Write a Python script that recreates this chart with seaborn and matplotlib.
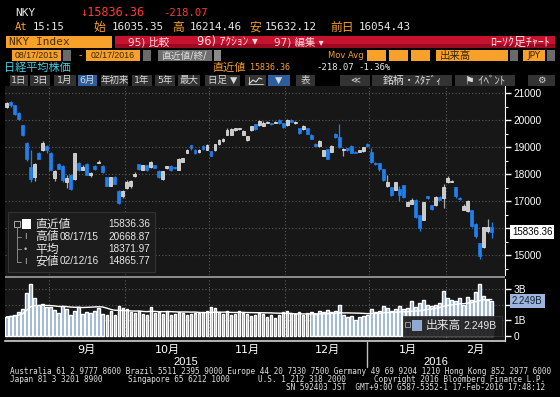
import matplotlib

matplotlib.use("Agg")
import matplotlib.pyplot as plt
import numpy as np
import pandas as pd
import seaborn as sns
from matplotlib.lines import Line2D
from matplotlib.patches import Rectangle

# NKY daily candles, 08/17/2015 - 02/17/2016
opens = [
    20500, 20650, 20540, 20260, 19800, 19150, 18250, 17900, 18780, 18900, 19040,
    18780, 17850, 18370, 18300, 17700, 17960, 17800, 18420, 18150, 18370, 17950, 18300, 18420, 18300, 17890, 17560, 17890, 17370, 17180,
    17480, 17560, 17920, 18370, 18150, 18330, 18250, 18330, 18110, 17800, 18220, 18300, 18250, 18150, 18450, 18780, 19070, 18900, 18800, 19050, 18900,
    18850, 18880, 19100, 19220, 19440, 19450, 19620, 19660, 19450, 19250, 19630, 19850, 19830, 19780, 19900, 19880, 19900, 20000, 19880,
    19800, 20010, 19890, 19700, 19670, 19700, 19450, 19110, 19020, 18680, 18920, 18820, 19500, 19360, 18900, 18950, 19050, 18820, 18820, 18850, 19110,
    18818, 18400, 18400, 18180, 17560, 17520, 17410, 17430, 17590, 16810, 16900, 17040, 16480, 16300, 17190, 16850, 16850, 17150, 17100,
    17700, 17720, 17520, 17110, 16670, 16630, 16670, 16150, 15440, 15300, 15900, 16035.35,
]
highs = [
    20669, 20700, 20560, 20280, 19830, 19180, 18900, 18400, 18800, 19230, 19060,
    18800, 18130, 18400, 18330, 17950, 17990, 18790, 18450, 18340, 18400, 18060, 18320, 18510, 18330, 17900, 17900, 17920, 17390, 17420,
    17760, 17780, 18070, 18380, 18350, 18340, 18470, 18350, 18130, 18120, 18300, 18320, 18260, 18590, 18600, 18930, 19090, 18920, 18920, 19070, 19120,
    18870, 19120, 19280, 19330, 19700, 19700, 19720, 19720, 19620, 19420, 19790, 19870, 20000, 19960, 19950, 19900, 19960, 20020, 19900,
    20030, 20040, 19980, 19720, 19830, 19720, 19470, 19130, 19260, 18900, 18940, 19060, 19520, 19870, 18950, 18970, 19060, 18840, 18890, 19010, 19130,
    18960, 18440, 18420, 18180, 17975, 17530, 17720, 17570, 17600, 17010, 17100, 17060, 16500, 16960, 17200, 16860, 17170, 17170, 17630,
    17920, 17790, 17530, 17160, 16890, 17040, 16680, 16170, 15460, 16050, 16330, 16214.46,
]
lows = [
    20450, 20500, 20200, 20000, 19420, 18500, 17714, 17740, 18540, 18860, 18780,
    18150, 17750, 18170, 17700, 17480, 17410, 17780, 18100, 18130, 17950, 17900, 18140, 18400, 18040, 17560, 17540, 17630, 16901, 17100,
    17450, 17500, 17900, 18150, 18130, 18120, 18230, 18220, 17850, 17760, 18200, 18110, 18180, 18140, 18430, 18760, 18900, 18750, 18780, 18900, 18880,
    18650, 18860, 19080, 19200, 19430, 19440, 19600, 19640, 19430, 19230, 19600, 19620, 19790, 19760, 19880, 19830, 19880, 19870, 19720,
    19780, 19930, 19870, 19480, 19630, 19470, 19280, 19030, 19000, 18650, 18540, 18800, 19340, 18950, 18670, 18870, 18780, 18760, 18800, 18830, 19000,
    18394, 18320, 18110, 17740, 17509, 17190, 17390, 17000, 17100, 16800, 16880, 16387, 15900, 16280, 17060, 16660, 16830, 17030, 16740,
    17680, 17700, 17100, 17020, 16650, 16600, 16040, 15630, 14866, 15260, 15810, 15632.12,
]
closes = [
    20620, 20554, 20222, 20033, 19435, 18540, 17806, 18376, 18574, 19136, 18890,
    18165, 18095, 18182, 17792, 17860, 17427, 18770, 18150, 18264, 17965, 18026, 18171, 18432, 18070, 17571, 17880, 17645, 16930, 17388,
    17722, 17725, 18005, 18186, 18322, 18141, 18438, 18234, 17891, 18096, 18291, 18131, 18207, 18554, 18580, 18900, 18947, 18777, 18903, 18935, 19083,
    18683, 19116, 19265, 19310, 19642, 19671, 19697, 19691, 19596, 19393, 19760, 19649, 19960, 19879, 19924, 19847, 19944, 19883, 19747,
    20012, 19938, 19939, 19504, 19760, 19492, 19301, 19046, 19230, 18883, 18565, 19049, 19353, 18986, 18916, 18886, 18789, 18769, 18873, 18982, 19033,
    18450, 18374, 18191, 17767, 17697, 17218, 17715, 17240, 17147, 16955, 17048, 16416, 16017, 16958, 17110, 16708, 17163, 17041, 17518,
    17865, 17750, 17191, 17068, 16820, 17004, 16085, 15713, 14952, 16022, 16054, 15836.36,
]
# volume in billions of shares
volume = [
    1.20, 1.25, 1.30, 1.50, 1.70, 2.75, 3.30, 2.40, 2.00, 2.05, 1.85,
    1.86, 1.65, 1.43, 1.90, 1.70, 1.35, 1.60, 1.86, 1.40, 1.50, 1.45, 1.60, 1.75, 1.40, 1.30, 1.60, 1.35, 1.90, 1.75,
    1.70, 1.50, 1.45, 1.55, 1.40, 1.35, 1.85, 1.45, 1.50, 1.40, 1.60, 1.35, 1.40, 1.50, 1.45, 1.30, 1.40, 1.45, 1.45, 1.50, 1.60,
    1.85, 1.80, 1.50, 1.40, 1.55, 1.30, 1.40, 1.60, 1.45, 1.40, 1.25, 1.30, 1.45, 1.40, 1.20, 1.35, 1.15, 1.30, 1.50,
    1.60, 1.45, 1.40, 1.50, 1.30, 1.45, 1.50, 1.40, 1.55, 1.50, 1.65, 1.50, 1.60, 1.95, 1.30, 1.20, 1.25, 1.00, 1.20, 1.25, 1.30,
    1.70, 1.50, 1.60, 1.90, 1.80, 1.60, 1.70, 1.90, 1.70, 1.75, 2.20, 1.85, 2.10, 2.30, 1.95, 1.90, 2.00, 2.10, 2.90,
    2.40, 2.30, 2.20, 2.40, 2.00, 2.50, 2.30, 2.80, 3.35, 2.55, 2.30, 2.249,
]
tse_holidays = ["2015-09-21", "2015-09-22", "2015-09-23", "2015-10-12", "2015-11-03",
                "2015-11-23", "2015-12-23", "2015-12-31", "2016-01-01", "2016-01-11",
                "2016-02-11"]
month_names = ["9月", "10月", "11月", "12月", "1月", "2月"]
year_names = ["2015", "2016"]
price_ticks = [15000, 16000, 17000, 18000, 19000, 20000, 21000]
# 16000 and 2B sit under the last-value boxes, so they are not drawn
price_tick_labels = ["15000", "", "17000", "18000", "19000", "20000", "21000"]
vol_ticks = [0, 1, 2, 3]
vol_tick_labels = ["0", "1B", "", "3B"]

dates = pd.bdate_range("2015-08-17", "2016-02-17", freq="C", holidays=tse_holidays)
df = pd.DataFrame({"date": dates, "open": opens, "high": highs, "low": lows,
                   "close": closes, "volume": volume})
df["idx"] = np.arange(len(df))
df["ma"] = df["volume"].rolling(20, min_periods=1).mean()
month_start = df.index[df["date"].dt.month != df["date"].shift().dt.month][1:]
bounds = [m - 0.5 for m in month_start]

W, H = 560, 397
ORANGE = "#f7a12b"
RED = "#ff3b30"
UP, DOWN = "#c9c9c9", "#1f80f0"
VOLC = "#8eaad0"
CJK = ["DejaVu Sans", "Noto Sans CJK JP"]
MONO = ["DejaVu Sans Mono", "Noto Sans CJK JP"]
NUM = ["Liberation Sans", "Noto Sans CJK JP"]

sns.set_style("dark")
plt.rcParams["font.family"] = CJK

fig = plt.figure(figsize=(W / 100, H / 100), dpi=100, facecolor="black")


def rect(x0, y0, x1, y1, fc, ec="none", lw=0, z=1, alpha=1):
    fig.add_artist(Rectangle((x0 / W, 1 - y1 / H), (x1 - x0) / W, (y1 - y0) / H,
                             transform=fig.transFigure, facecolor=fc, edgecolor=ec,
                             linewidth=lw, zorder=z, alpha=alpha))


def line(xs, ys, color, lw=0.8, z=6):
    fig.add_artist(Line2D([x / W for x in xs], [1 - y / H for y in ys],
                          transform=fig.transFigure, color=color, lw=lw, zorder=z))


def txt(x, y, s, color="white", size=7, ha="left", family=CJK, z=6, **kw):
    fig.text(x / W, 1 - y / H, s, color=color, fontsize=size, ha=ha, va="center",
             family=family, zorder=z, **kw)


def axes_px(x0, y0, x1, y1):
    return fig.add_axes([x0 / W, 1 - y1 / H, (x1 - x0) / W, (y1 - y0) / H])


# ---- price panel ----
ax = axes_px(5, 86, 505, 275)
ax.set_facecolor("#171717")
up = df["close"] >= df["open"]
colors = np.where(up, UP, DOWN)
ax.vlines(df["idx"], df["low"], df["high"], colors=np.where(up, "#a8a8a8", DOWN),
          linewidth=0.9, zorder=3)
body = (df["close"] - df["open"]).abs().clip(lower=18)
ax.bar(df["idx"], body, bottom=df[["open", "close"]].min(axis=1), width=0.72,
       color=colors, edgecolor=np.where(up, "#f0f0f0", DOWN), linewidth=0.5, zorder=4)
ax.set_xlim((5 - 6.5) / 4.01, (505 - 6.5) / 4.01)
ax.set_ylim(21000 - (275 - 93) / 27 * 1000, 21000 + 7 / 27 * 1000)
ax.set_xticks(bounds)
ax.set_xticklabels([])
ax.set_yticks(price_ticks)
ax.set_yticklabels(price_tick_labels)
ax.set_yticks(range(14500, 21001, 500), minor=True)
ax.yaxis.tick_right()
ax.tick_params(axis="x", length=0)
ax.tick_params(axis="y", which="major", colors="white", length=4, width=1,
               labelsize=7.3, pad=2)
ax.tick_params(axis="y", which="minor", colors="white", length=2, width=0.8)
for lab in ax.get_yticklabels():
    lab.set_family(NUM)
ax.grid(True, color="#5c5c5c", linestyle=(0, (1, 2)), linewidth=0.8)
for s in ["left", "top", "bottom"]:
    ax.spines[s].set_visible(False)
ax.spines["right"].set_color("white")
ax.text(1.014, closes[-1], f"{closes[-1]:.2f}", transform=ax.get_yaxis_transform(),
        ha="left", va="center", fontsize=7, color="black", family=NUM, zorder=10,
        clip_on=False, bbox=dict(boxstyle="square,pad=0.2", fc="white", ec="none"))

# ---- volume panel ----
axv = axes_px(5, 279, 505, 341)
axv.set_facecolor("#171717")
sns.barplot(x=df["idx"], y=df["volume"], ax=axv, color=VOLC, width=0.62,
            saturation=1, zorder=3)
sns.lineplot(x=df["idx"], y=df["ma"], ax=axv, color="white", linewidth=1, zorder=4)
axv.set_xlim((5 - 6.5) / 4.01, (505 - 6.5) / 4.01)
axv.set_ylim(-(341 - 335.5) / 15.5, (335.5 - 279) / 15.5)
axv.set_xlabel("")
axv.set_ylabel("")
axv.yaxis.tick_right()
axv.set_yticks(vol_ticks)
axv.set_yticklabels(vol_tick_labels)
axv.tick_params(axis="y", colors="white", length=4, width=1, labelsize=7.3, pad=2)
for lab in axv.get_yticklabels():
    lab.set_family(NUM)
ends = bounds + [axv.get_xlim()[1]]
mids = [(a + b) / 2 for a, b in zip(ends[:-1], ends[1:])]
axv.set_xticks(mids)
axv.set_xticklabels(month_names, family=CJK)
axv.set_xticks(bounds, minor=True)
axv.tick_params(axis="x", which="major", length=0, colors="white", labelsize=8, pad=3)
axv.tick_params(axis="x", which="minor", length=4, width=1, colors="#d0d0d0")
axv.grid(True, axis="y", color="#5c5c5c", linestyle=(0, (1, 2)), linewidth=0.8)
axv.grid(True, axis="x", which="minor", color="#5c5c5c", linestyle=(0, (1, 2)),
         linewidth=0.8)
for s in ["left", "top"]:
    axv.spines[s].set_visible(False)
axv.spines["right"].set_color("white")
axv.spines["bottom"].set_color("#d0d0d0")
axv.spines["bottom"].set_linewidth(1.2)
axv.text(1.014, volume[-1], f"{volume[-1]:.3f}B", transform=axv.get_yaxis_transform(),
         ha="left", va="center", fontsize=7, color="#10203a", family=NUM, zorder=10,
         clip_on=False, bbox=dict(boxstyle="square,pad=0.2", fc="#9db5d8", ec="none"))

# separator between panels
rect(5, 275, 505, 279, "#171717", z=0.5)
rect(5, 275.5, 505, 277.8, "#8a8a8a", z=2)

# year labels under month axis
txt(186, 362, year_names[0], "white", 8, ha="center", family=NUM)
txt(436, 362, year_names[1], "white", 8, ha="center", family=NUM)
line([367, 367], [342, 367], "#c0c0c0", lw=1)

# ---- price legend box ----
rect(8, 212, 155, 272, "#1c1c1c", ec="#333333", lw=0.8, z=5)
rect(14, 221, 20, 227, "none", ec="#aaaaaa", lw=0.7, z=6)
rect(22, 219, 31, 229, "white", z=6)
line([17, 17], [227, 262], "#888888", lw=0.7)
leg_rows = [("直近値", "", f"{closes[-1]:.2f}", 224),
            ("高値", "08/17/15", "20668.87", 236.5),
            ("平均", "", "18371.97", 249),
            ("安値", "02/12/16", "14865.77", 261.5)]
for k, (name, date, val, y) in enumerate(leg_rows):
    txt(35, y, name, "#e8e8e8", 8.5)
    if date:
        txt(60, y, date, "#e8e8e8", 7.2, family=NUM)
    txt(150, y, val, "#e8e8e8", 7.2, ha="right", family=NUM)
    if k:
        line([17, 21], [y, y], "#888888", lw=0.7)
        txt(25, y, "•" if k == 2 else "I", "#bbbbbb", 6.5, ha="center", family=NUM)

# ---- volume legend box ----
rect(403, 316, 502, 336, "#1c1c1c", ec="#333333", lw=0.6, z=5, alpha=0.92)
rect(405, 322, 410, 327, "none", ec="#aaaaaa", lw=0.6, z=6)
rect(412, 320, 422, 331, VOLC, z=6)
txt(426, 326, "出来高", "#e8e8e8", 8.5)
txt(497, 326, f"{volume[-1]:.3f}B", "#e8e8e8", 7.5, ha="right", family=NUM)

# ---- header ----
txt(15, 13, "NKY", "#e8e8e8", 8, family=MONO)
txt(80, 13, f"↓{closes[-1]:.2f}", RED, 8.6, family=MONO)
txt(163, 13, "-218.07", RED, 7.6, family=MONO)
txt(15, 27, "At", ORANGE, 7.6, family=MONO)
txt(33, 27, "15:15", "#e8e8e8", 7.6, family=MONO)
quote = [(93, "始", 112, f"{opens[-1]:.2f}"), (172, "高", 190, f"{highs[-1]:.2f}"),
         (249, "安", 265, f"{lows[-1]:.2f}"), (330, "前日", 359, "16054.43")]
for x0, lab, x1, v in quote:
    txt(x0, 27, lab, ORANGE, 8.5)
    txt(x1, 27, v, "#e8e8e8", 7.8, family=MONO)

rect(6, 36, 112, 48, ORANGE, z=2)
txt(9, 42, "NKY Index", "#4a3000", 8, family=MONO)
rect(115, 36, 555, 48, "#c4122f", z=2)
rect(115, 44, 555, 48, "#9a0a22", z=2)
txt(128, 42, "95) 比較", "#ffdede", 7.5)
txt(197, 42, "96) ｱｸｼｮﾝ ▾", "#ffdede", 8.3)
txt(274, 42, "97) 編集 ▾", "#ffdede", 7.5)
txt(550, 42, "ﾛｰｿｸ足ﾁｬｰﾄ", "#ffdede", 8.6, ha="right")

rect(12, 50, 61, 61, ORANGE, z=2)
txt(36.5, 55.5, "08/17/2015", "#3a2500", 6.3, ha="center", family=NUM)
rect(63, 50, 71, 61, "#6a6a6a", z=2)
txt(79, 55.5, "-", ORANGE, 7)
rect(86, 50, 140, 61, ORANGE, z=2)
txt(113, 55.5, "02/17/2016", "#3a2500", 6.3, ha="center", family=NUM)
rect(143, 50, 151, 61, "#6a6a6a", z=2)
rect(158, 50, 212, 61, "#6e6e6e", z=2)
txt(161, 55.5, "直近値/終/", "#e0e0e0", 7)
rect(214, 50, 221, 61, "#8a8a8a", z=2)
txt(328, 55.5, "Mov Avg", ORANGE, 6)
for x0, x1 in [(367, 386), (389, 408), (411, 430)]:
    rect(x0, 50, x1, 61, ORANGE, z=2)
rect(436, 50, 508, 61, ORANGE, z=2)
txt(440, 55.5, "出来高", "#3a2500", 7.5)
rect(510, 50, 518, 61, "#6a6a6a", z=2)
rect(523, 50, 545, 61, ORANGE, z=2)
txt(534, 55.5, "JPY", "#3a2500", 6.5, ha="center")
rect(547, 50, 555, 61, "#6a6a6a", z=2)

txt(4, 68, "日経平均株価", "#3fd3e6", 8)
txt(212, 68, "直近値", ORANGE, 8)
txt(250, 68, f"{closes[-1]:.2f}", ORANGE, 6, family=MONO)
txt(316, 68, "-218.07", "#e8e8e8", 6.5, family=MONO)
txt(358, 68, "-1.36%", "#e8e8e8", 6.5, family=MONO)

buttons = [(10, 28, "1日", 6.8), (30, 50, "3日", 6.8), (54, 76, "1月", 6.8),
           (78, 97, "6月", 6.8), (101, 128, "年初来", 6.8), (132, 152, "1年", 6.8),
           (155, 175, "5年", 6.8), (178, 200, "最大", 6.8), (205, 240, "日足 ▼", 6.8),
           (245, 266, "", 6.8), (268, 290, "▼", 6.8), (296, 315, "表", 6.8),
           (340, 370, "≪", 6.8), (372, 452, "銘柄・ｽﾀﾃﾞｨ", 7.8),
           (455, 515, "⚑ ｲﾍﾞﾝﾄ", 7.8), (528, 555, "⚙", 6.8)]
for x0, x1, s, fs in buttons:
    fc = "#2c5e9e" if s in ("6月", "▼") else "#333333"
    rect(x0, 75, x1, 86, fc, z=2)
    if s:
        txt((x0 + x1) / 2, 80.5, s, "#d8d8d8", fs, ha="center")
# small line-chart icon on its button
line([249, 253, 256, 259, 262], [84, 80, 82, 78, 79], "#d8d8d8", lw=0.8)
line([249, 249, 263], [77, 84, 84], "#d8d8d8", lw=0.6)

# ---- footer ----
FOOT = ["DejaVu Sans Mono"]
FS = 5.6
txt(10, 372, "Australia 61 2 9777 8600 Brazil 5511 2395 9000 Europe 44 20 7330 7500 "
    "Germany 49 69 9204 1210 Hong Kong 852 2977 6000", "#e0e0e0", FS, family=FOOT)
txt(10, 379.5, "Japan 81 3 3201 8900", "#e0e0e0", FS, family=FOOT)
txt(128, 379.5, "Singapore 65 6212 1000", "#e0e0e0", FS, family=FOOT)
txt(258, 379.5, "U.S. 1 212 318 2000", "#e0e0e0", FS, family=FOOT)
txt(545, 379.5, "Copyright 2016 Bloomberg Finance L.P.", "#e0e0e0", FS, ha="right",
    family=FOOT)
txt(545, 387, "SN 592403 JST  GMT+9:00 G587-5352-1 17-Feb-2016 17:48:12", "#e0e0e0",
    FS, ha="right", family=FOOT)

fig.savefig("out.png", dpi=100, facecolor="black")
